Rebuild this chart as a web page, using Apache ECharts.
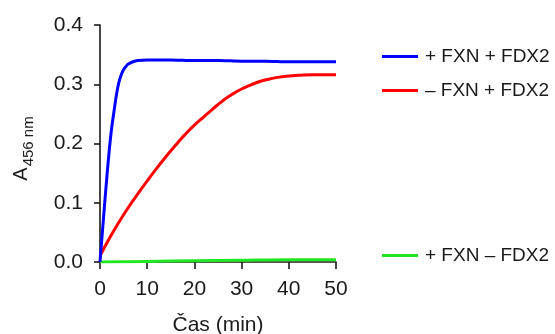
<!DOCTYPE html>
<html>
<head>
<meta charset="utf-8">
<script src="https://cdn.jsdelivr.net/npm/echarts@6/dist/echarts.min.js"></script>
<style>
  html, body { margin: 0; padding: 0; background: #fff; }
  #chart { width: 555px; height: 334px; }
</style>
</head>
<body>
<div id="chart"></div>
<script>
// time points (min) and absorbance at 456 nm
var blueT = [0, 0.5, 1, 1.5, 2, 2.5, 3, 3.5, 4, 4.5, 5, 5.5, 6, 7, 8, 10, 15, 20, 25, 30, 35, 40, 45, 50];
var blueA = [0, 0.05, 0.1, 0.148, 0.192, 0.228, 0.256, 0.283, 0.303, 0.316, 0.325, 0.33, 0.334, 0.338, 0.34, 0.341, 0.341, 0.34, 0.34, 0.339, 0.339, 0.338, 0.338, 0.338];

var redT = [0, 2, 4, 6, 8, 10, 12, 14, 16, 18, 20, 22, 24, 26, 28, 30, 32, 34, 36, 38, 40, 42, 45, 50];
var redA = [0.01, 0.04, 0.067, 0.092, 0.115, 0.137, 0.158, 0.178, 0.197, 0.215, 0.231, 0.245, 0.259, 0.272, 0.283, 0.292, 0.299, 0.305, 0.309, 0.312, 0.314, 0.315, 0.316, 0.316];

var greenT = [0, 10, 20, 30, 40, 50];
var greenA = [0, 0.001, 0.002, 0.003, 0.004, 0.004];

var names = ['+ FXN + FDX2', '\u2013 FXN + FDX2', '+ FXN \u2013 FDX2'];
var colors = ['#0000ff', '#ff0000', '#22e622'];

function pairs(t, a) {
  return t.map(function (x, i) { return [x, a[i]]; });
}

var myChart = echarts.init(document.getElementById('chart'));
var font = 'Liberation Sans';
var ink = '#1a1a1a';

function legendFor(name, top) {
  return {
    data: [name],
    left: 377,
    top: top,
    icon: 'rect',
    itemWidth: 36,
    itemHeight: 3,
    textStyle: { fontFamily: font, fontSize: 19, color: ink, padding: [0, 0, 0, 2] }
  };
}

var option = {
  backgroundColor: '#fff',
  animation: false,
  grid: { left: 100, right: 219, top: 25, bottom: 72, containLabel: false, outerBoundsMode: 'none' },
  legend: [legendFor(names[0], 42), legendFor(names[1], 76), legendFor(names[2], 241)],
  xAxis: {
    type: 'value',
    min: 0, max: 50, interval: 10,
    name: 'Čas (min)',
    nameLocation: 'middle',
    nameGap: 53,
    nameTextStyle: { fontFamily: font, fontSize: 21, color: ink },
    axisLine: { lineStyle: { color: ink, width: 1.6 } },
    axisTick: { length: 7, lineStyle: { color: ink, width: 1.6 } },
    axisLabel: { margin: 17, fontFamily: font, fontSize: 21, color: ink },
    splitLine: { show: false }
  },
  yAxis: {
    type: 'value',
    min: 0, max: 0.4, interval: 0.1,
    name: '{a|A}{s|456 nm}',
    nameLocation: 'middle',
    nameGap: 64,
    nameRotate: 90,
    nameTextStyle: {
      color: ink,
      padding: [0, 10, 0, 0],
      rich: {
        a: { fontFamily: font, fontSize: 20, color: ink, verticalAlign: 'top' },
        s: { fontFamily: font, fontSize: 15, color: ink, padding: [10, 0, 0, 1] }
      }
    },
    axisLine: { show: true, lineStyle: { color: ink, width: 1.6 } },
    axisTick: { show: true, length: 6, lineStyle: { color: ink, width: 1.6 } },
    axisLabel: {
      margin: 17, fontFamily: font, fontSize: 21, color: ink,
      formatter: function (v) { return v.toFixed(1); }
    },
    splitLine: { show: false }
  },
  series: [
    { name: names[0], type: 'line', data: pairs(blueT, blueA), showSymbol: false, smooth: 0.3, lineStyle: { width: 3, color: colors[0] }, itemStyle: { color: colors[0] }, z: 3 },
    { name: names[1], type: 'line', data: pairs(redT, redA), showSymbol: false, smooth: 0.5, lineStyle: { width: 3, color: colors[1] }, itemStyle: { color: colors[1] }, z: 2 },
    { name: names[2], type: 'line', data: pairs(greenT, greenA), showSymbol: false, smooth: 0.3, lineStyle: { width: 3, color: colors[2] }, itemStyle: { color: colors[2] }, z: 1 }
  ]
};

myChart.setOption(option);
</script>
</body>
</html>
